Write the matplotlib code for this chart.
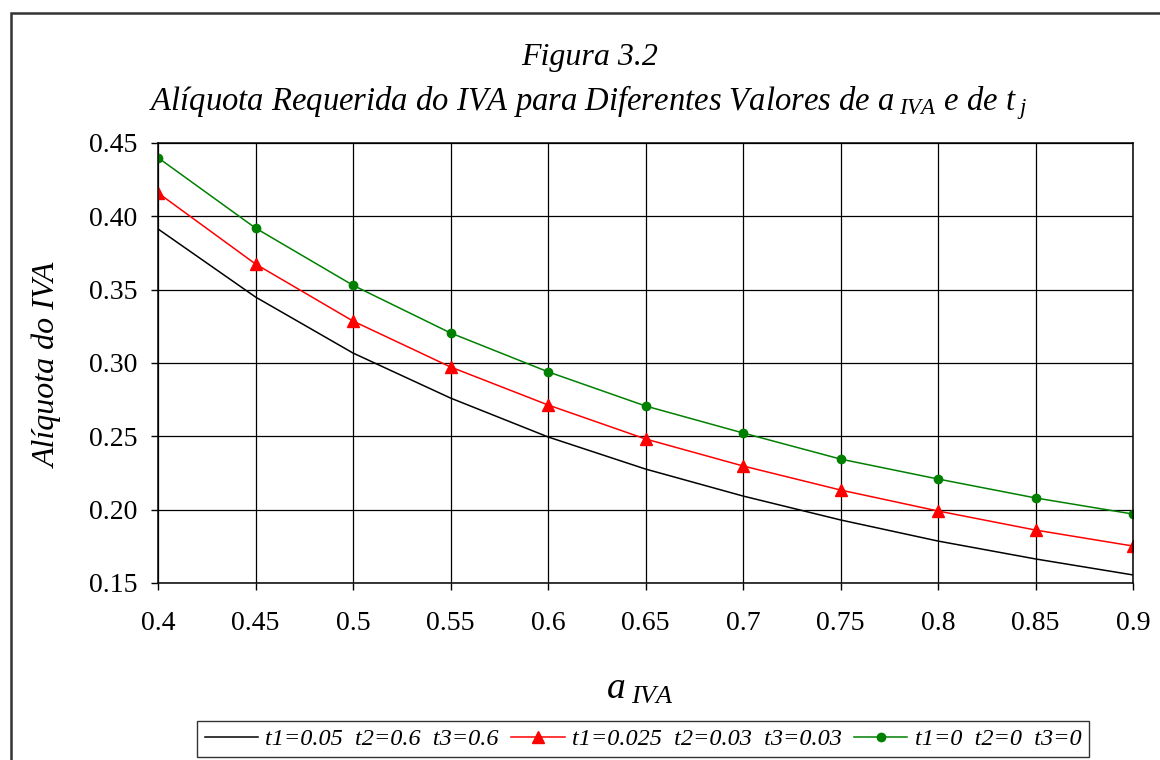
import matplotlib
matplotlib.use("Agg")
import matplotlib.pyplot as plt
from matplotlib.patches import Rectangle

plt.rcParams['font.family'] = ['Liberation Serif', 'DejaVu Serif']
plt.rcParams['mathtext.fontset'] = 'custom'
plt.rcParams['mathtext.rm'] = 'Liberation Serif'
plt.rcParams['mathtext.it'] = 'Liberation Serif:italic'

a_iva = [0.40, 0.45, 0.50, 0.55, 0.60, 0.65, 0.70, 0.75, 0.80, 0.85, 0.90]
x_tick_labels = ['0.4', '0.45', '0.5', '0.55', '0.6', '0.65', '0.7', '0.75', '0.8', '0.85', '0.9']
y_ticks = [0.15, 0.20, 0.25, 0.30, 0.35, 0.40, 0.45]

s1_label = 't1=0.05  t2=0.6  t3=0.6'
s1 = [0.3914, 0.3450, 0.3068, 0.2761, 0.2496, 0.2277, 0.2093, 0.1930, 0.1786, 0.1664, 0.1555]
s2_label = 't1=0.025  t2=0.03  t3=0.03'
s2 = [0.4160, 0.3675, 0.3286, 0.2973, 0.2714, 0.2482, 0.2298, 0.2134, 0.1991, 0.1861, 0.1752]
s3_label = 't1=0  t2=0  t3=0'
s3 = [0.4400, 0.3920, 0.3530, 0.3205, 0.2940, 0.2707, 0.2523, 0.2345, 0.2209, 0.2080, 0.1970]

fig = plt.figure(figsize=(11.6, 7.6), dpi=100)
W, H = 1160, 760
ax = fig.add_axes([158 / W, 1 - 583 / H, (1133 - 158) / W, (583 - 143) / H])

ax.plot(a_iva, s1, color='black', lw=1.1, label=s1_label)
ax.plot(a_iva, s2, color='#ff0000', lw=1.1, marker='^', markersize=8, label=s2_label)
ax.plot(a_iva, s3, color='#008000', lw=1.1, marker='o', markersize=6, label=s3_label)

ax.set_xlim(0.4, 0.9)
ax.set_ylim(0.15, 0.45)
ax.set_xticks(a_iva)
ax.set_xticklabels(x_tick_labels)
ax.set_yticks(y_ticks)
ax.set_yticklabels([f'{v:.2f}' for v in y_ticks])
ax.tick_params(axis='both', labelsize=20, length=5, width=1, color='black', direction='out')
ax.tick_params(axis='x', pad=15)
ax.tick_params(axis='y', pad=10)
ax.grid(True, color='black', lw=0.9)
ax.set_axisbelow(True)
for sp in ax.spines.values():
    sp.set_color('black')
    sp.set_linewidth(1.1)

fig.text(590 / W, 1 - 58 / H, 'Figura 3.2', ha='center', va='center', fontsize=23, style='italic')
fig.text(588 / W, 1 - 103 / H,
         r'Alíquota Requerida do IVA para Diferentes Valores de $a_{\ IVA}$ e de $t_{\ j}$',
         ha='center', va='center', fontsize=23.5, style='italic')
fig.text(48 / W, 1 - 365 / H, 'Alíquota do IVA', ha='center', va='center',
         rotation=90, fontsize=23, style='italic')
fig.text(640 / W, 1 - 688 / H, r'$a_{\ IVA}$', ha='center', va='center', fontsize=27)

leg = fig.legend(loc='center', bbox_to_anchor=(643 / W, 1 - 739 / H), ncol=3,
                 prop={'style': 'italic', 'size': 17.5}, frameon=True, fancybox=False,
                 edgecolor='black', handlelength=2.2, handletextpad=0.3,
                 columnspacing=0.5, borderpad=0.3, borderaxespad=0)
leg.get_frame().set_linewidth(1.0)

fig.patches.append(Rectangle((11 / W, -0.1), 1.2, 1 - 13 / H + 0.1, transform=fig.transFigure,
                             fill=False, edgecolor='#333333', lw=1.8, figure=fig))

fig.savefig('out.png', dpi=100)
